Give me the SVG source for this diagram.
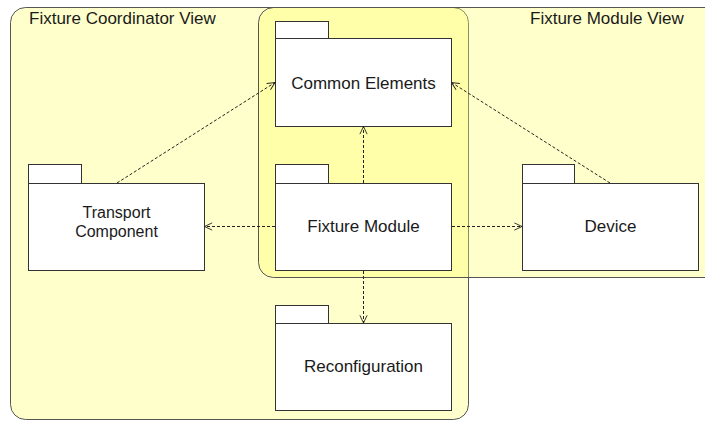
<svg xmlns="http://www.w3.org/2000/svg" width="705" height="421" viewBox="0 0 705 421">
<defs>
<style>
.view{stroke:#555555;stroke-width:1}
.pkg{fill:#ffffff;stroke:#333333;stroke-width:1}
.lbl{font-family:"Liberation Sans",Arial,sans-serif;font-size:17px;fill:#1a1a1a}
.lbl2{font-family:"Liberation Sans",Arial,sans-serif;font-size:16px;fill:#1a1a1a}
.vlbl{font-family:"Liberation Sans",Arial,sans-serif;font-size:17px;fill:#1a1a1a}
.dep{fill:none;stroke:#222222;stroke-width:1;stroke-dasharray:3 2}
</style>
<marker id="open" viewBox="0 0 10 10" refX="9.5" refY="5" markerWidth="9" markerHeight="9" markerUnits="userSpaceOnUse" orient="auto">
<path d="M1,1 L9.5,5 L1,9" fill="none" stroke="#222222" stroke-width="1"/>
</marker>
</defs>
<rect width="705" height="421" fill="#ffffff"/>
<g id="fixture-coordinator-view">
<rect class="view" x="10.5" y="7.5" width="458" height="412" rx="15" ry="15" fill="#ffffcc"/>
<text class="vlbl" x="29" y="23.5">Fixture Coordinator View</text>
</g>
<g id="fixture-module-view">
<rect class="view" x="258.5" y="7.5" width="470" height="270" rx="15" ry="15" fill="#ffff66" fill-opacity="0.333"/>
<text class="vlbl" x="530" y="23.5">Fixture Module View</text>
</g>
<g id="common-elements">
<rect class="pkg" x="275.5" y="21.5" width="53" height="17"/>
<rect class="pkg" x="275.5" y="38.5" width="176" height="88"/>
<text class="lbl" x="363.5" y="88.5" text-anchor="middle">Common Elements</text>
</g>
<g id="transport-component">
<rect class="pkg" x="28.5" y="164.5" width="53" height="19"/>
<rect class="pkg" x="28.5" y="183.5" width="176" height="87"/>
<text class="lbl2" x="116.5" y="218" text-anchor="middle">Transport</text>
<text class="lbl2" x="116.5" y="236.5" text-anchor="middle">Component</text>
</g>
<g id="fixture-module">
<rect class="pkg" x="275.5" y="164.5" width="53" height="19"/>
<rect class="pkg" x="275.5" y="183.5" width="176" height="87"/>
<text class="lbl" x="363.5" y="232" text-anchor="middle">Fixture Module</text>
</g>
<g id="device">
<rect class="pkg" x="522.5" y="164.5" width="52" height="19"/>
<rect class="pkg" x="522.5" y="183.5" width="176" height="87"/>
<text class="lbl" x="610.5" y="232" text-anchor="middle">Device</text>
</g>
<g id="reconfiguration">
<rect class="pkg" x="275.5" y="305.5" width="53" height="18"/>
<rect class="pkg" x="275.5" y="323.5" width="176" height="87"/>
<text class="lbl" x="363.5" y="372" text-anchor="middle">Reconfiguration</text>
</g>
<g id="connectors">
<line class="dep" x1="117" y1="183" x2="275" y2="82.5" marker-end="url(#open)"/>
<line class="dep" x1="610" y1="183" x2="451.5" y2="82.5" marker-end="url(#open)"/>
<line class="dep" x1="363.5" y1="183" x2="363.5" y2="126.5" marker-end="url(#open)"/>
<line class="dep" x1="275" y1="226.5" x2="204.5" y2="226.5" marker-end="url(#open)"/>
<line class="dep" x1="452" y1="226.5" x2="522" y2="226.5" marker-end="url(#open)"/>
<line class="dep" x1="363.5" y1="271" x2="363.5" y2="323" marker-end="url(#open)"/>
</g>
</svg>
